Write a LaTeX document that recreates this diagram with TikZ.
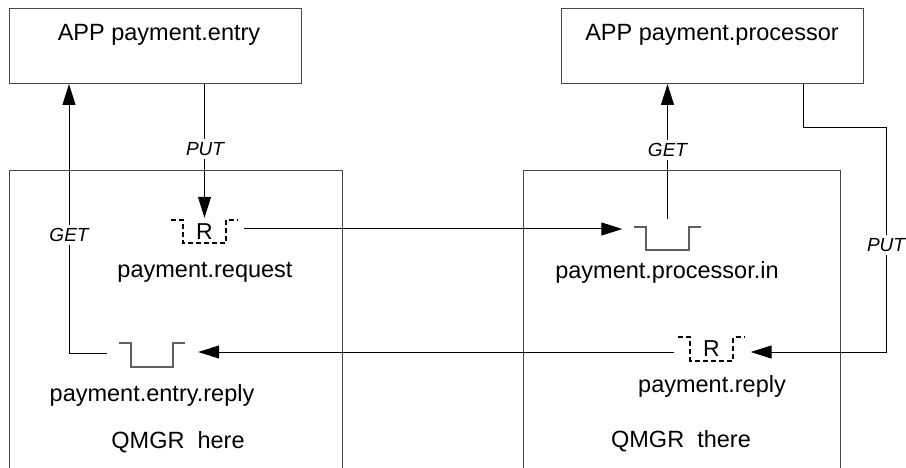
\documentclass[tikz,border=0pt]{standalone}
\usepackage{fontspec}
\setmainfont{Liberation Sans}
\usetikzlibrary{arrows.meta,calc}
\definecolor{boxgray}{HTML}{474747}
\definecolor{qgray}{HTML}{5E5E5E}
\begin{document}
\begin{tikzpicture}[x=1pt,y=-1pt,
  box/.style={draw=boxgray,line width=1pt},
  conn/.style={draw=black,line width=1pt},
  arr/.style={conn,-{Triangle[length=21pt,width=13pt]}},
  qbody/.style={minimum width=42pt,minimum height=23pt,inner sep=0pt,font=\fontsize{23}{26}\selectfont},
  qempty/.style={draw=qgray,line width=2pt},
  qdash/.style={draw=black,line width=1.7pt,dash pattern=on 5pt off 3pt},
  lbl/.style={font=\fontsize{23.5}{28}\selectfont,anchor=base,inner sep=0pt},
  act/.style={font=\itshape\fontsize{19}{22}\selectfont,fill=white,inner sep=3pt},
  frame/.style={inner sep=0pt,anchor=north west}
]
\useasboundingbox (0,0) rectangle (906,468);
\fill[white] (0,0) rectangle (906,468);

% application boxes
\node[box,frame,minimum width=292pt,minimum height=75pt] (entry) at (9,8) {};
\node[box,frame,minimum width=302pt,minimum height=75pt] (proc) at (561,8) {};
\node[lbl] (entryt) at (159,41) {APP payment.entry};
\node[lbl] (proct) at (712,41) {APP payment.processor};

% queue manager frames (open at bottom)
\node[frame,minimum width=333pt,minimum height=310pt] (qmh) at (9,171) {};
\node[frame,minimum width=317pt,minimum height=310pt] (qmt) at (523,171) {};
\draw[box] (qmh.south west) -- (qmh.north west) -- (qmh.north east) -- (qmh.south east);
\draw[box] (qmt.south west) -- (qmt.north west) -- (qmt.north east) -- (qmt.south east);
\node[lbl] (qmht) at (178,448) {QMGR\ \ here};
\node[lbl] (qmtt) at (681,447) {QMGR\ \ there};

% queues
\node[qbody] (req) at (204.5,231.5) {R};
\node[qbody] (pin) at (667.5,238.5) {};
\node[qbody] (qer) at (152,355) {};
\node[qbody] (rep) at (711.5,349) {R};
\draw[qdash] ($(req.north west)+(-12,0)$) -- (req.north west) -- (req.south west) -- (req.south east) -- (req.north east) -- ++(12,0);
\draw[qdash] ($(rep.north west)+(-12,0)$) -- (rep.north west) -- (rep.south west) -- (rep.south east) -- (rep.north east) -- ++(12,0);
\draw[qempty] ($(pin.north west)+(-12,0)$) -- (pin.north west) -- (pin.south west) -- (pin.south east) -- (pin.north east) -- ++(12,0);
\draw[qempty] ($(qer.north west)+(-12,0)$) -- (qer.north west) -- (qer.south west) -- (qer.south east) -- (qer.north east) -- ++(12,0);
\node[lbl] (reqt) at (205,277) {payment.request};
\node[lbl] (pint) at (667,278) {payment.processor.in};
\node[lbl] (qert) at (152,401) {payment.entry.reply};
\node[lbl] (rept) at (712,392) {payment.reply};

% connectors
\draw[arr] ($(qer.west)+(-24,-2)$) -| ($(entry.south west)+(60,0)$);
\node[act] (getl) at (69,235) {GET};

\draw[arr,shorten >=2pt] (entry.south -| req.north) -- (req.north);
\node[act] (putl) at (205,149) {PUT};

\draw[arr] ($(req.east)+(18,-2.5)$) -- ($(pin.west |- req.east)+(-24,-2.5)$);

\draw[arr] ($(pin.north)+(0,-8)$) -- (pin.north |- proc.south);
\node[act] (getr) at (667.5,150) {GET};

\draw[arr] ($(proc.south west)+(242,0)$) -- ++(0,44) -| ($(rep.east)+(153.5,3)$) -- ($(rep.east)+(18,3)$);
\node[act] (putr) at (886,245) {PUT};

\draw[arr] ($(rep.west)+(-16,3)$) -- ($(qer.east |- rep.west)+(25,3)$);
\end{tikzpicture}
\end{document}
